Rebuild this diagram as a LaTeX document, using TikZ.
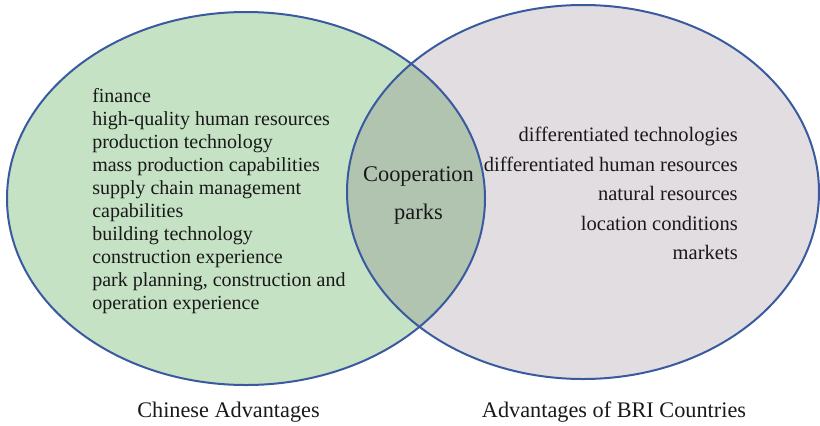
\documentclass[tikz,border=0pt]{standalone}
\usepackage{fontspec}
\setmainfont{Liberation Serif}
\usepackage{tikz}
\usetikzlibrary{positioning}

\definecolor{setgreen}{RGB}{197,226,196}
\definecolor{setmauve}{RGB}{226,221,224}
\definecolor{setboth}{RGB}{176,196,176}
\definecolor{rimblue}{RGB}{58,90,160}

% the two sets, in pixel-like units
\newcommand{\chinaset}{(246,198.5) ellipse [x radius=239, y radius=186.5]}
\newcommand{\briset}{(583,192) ellipse [x radius=236, y radius=187]}

\begin{document}
\begin{tikzpicture}[
  x=0.75pt, y=-0.75pt,
  rim/.style={draw=rimblue, line width=1.5pt},
  items/.style={inner sep=0pt, text=black!90, font={\fontsize{15}{17.25}\selectfont}},
  briitems/.style={inner sep=0pt, text=black!90, font={\fontsize{15.4}{22.2}\selectfont}},
  mid/.style={inner sep=0pt, text=black!90, font={\fontsize{16.8}{28.5}\selectfont}},
  caption/.style={inner sep=0pt, text=black!90, font={\fontsize{16.7}{20}\selectfont}}
]
\useasboundingbox (0,0) rectangle (820,425);

\fill[setmauve] \briset;
\fill[setgreen] \chinaset;
\begin{scope}
  \clip \chinaset;
  \fill[setboth] \briset;
\end{scope}
\path[rim] \briset;
\path[rim] \chinaset;

\node[items, align=left, anchor=north west] (china) at (92,88.5)
  {finance\\high-quality human resources\\production technology\\
   mass production capabilities\\supply chain management\\capabilities\\
   building technology\\construction experience\\
   park planning, construction and\\operation experience};
\node[briitems, align=right, anchor=north east] (bri) at (738,126.7)
  {differentiated technologies\\differentiated human resources\\
   natural resources\\location conditions\\markets};
\node[mid, align=center, anchor=north] (parks) at (418.5,166.7)
  {Cooperation\\parks};

\node[caption, anchor=base] (chinacap) at (228.5,417.7) {Chinese Advantages};
\node[caption, anchor=base] (bricap) at (614,417) {Advantages of BRI Countries};
\end{tikzpicture}
\end{document}
